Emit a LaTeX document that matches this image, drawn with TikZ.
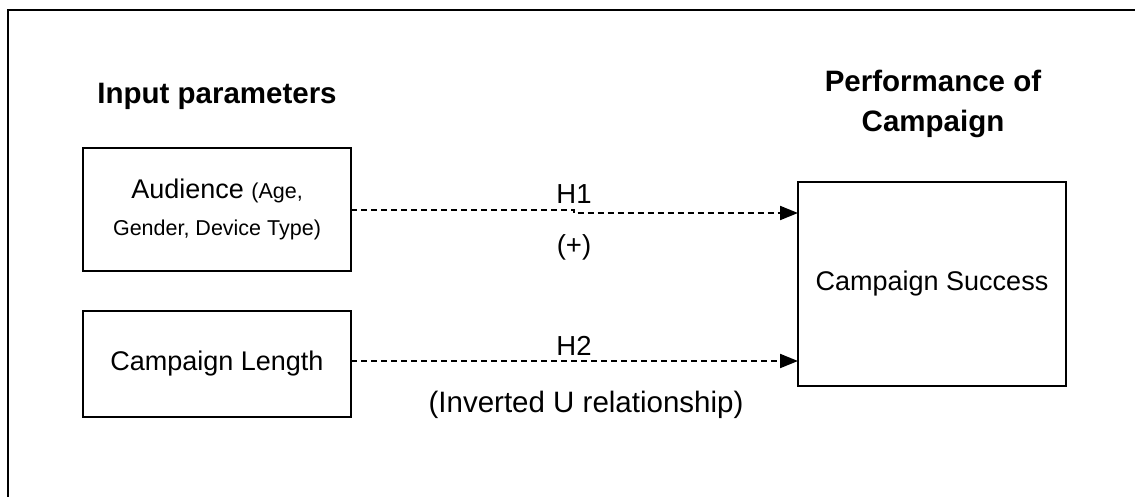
\documentclass[tikz,border=0pt]{standalone}
\usepackage{fontspec}
\setmainfont{Liberation Sans}
\usetikzlibrary{arrows.meta}
\begin{document}
\begin{tikzpicture}[x=1pt,y=-1pt,
  box/.style={draw=black,line width=2pt,minimum width=268pt,outer sep=0pt,inner sep=0pt,align=center,font=\fontsize{27}{37}\selectfont},
  title/.style={font=\fontsize{29.5}{40}\selectfont\bfseries,align=center},
  lbl/.style={font=\fontsize{27.5}{33}\selectfont,anchor=base},
  conn/.style={line width=2pt,dash pattern=on 6pt off 4pt,-{Triangle[length=18pt,width=14pt]}}
]
\useasboundingbox (0,0) rectangle (1135,496);
\clip (0,0) rectangle (1135,496);
\draw[line width=2pt] (8,10) rectangle (1150,510);

\node[title,anchor=base] (tin) at (217,103) {Input parameters};
\node[title] (tperf) at (933,104) {Performance of\\Campaign};

\node[box,minimum height=123pt] (aud) at (217,209.5) {Audience {\fontsize{21.5}{37}\selectfont(Age,}\\{\fontsize{21.5}{37}\selectfont Gender, Device Type)}};
\node[box,minimum height=106pt] (cl) at (217,364) {Campaign Length};
\node[box,minimum height=204pt] (succ) at (932,284) {Campaign Success};

\coordinate (jog) at (574,209.5);
\coordinate (t1) at (798,213);
\coordinate (s2) at (351,361);
\coordinate (t2) at (798,361);
\draw[conn] (aud.east) -- (jog) |- (t1);
\draw[conn] (s2) -- (t2);

\node[lbl] (h1) at (574,203) {H1};
\node[lbl] (plus) at (574,254) {(+)};
\node[lbl] (h2) at (574,355) {H2};
\node[lbl,font=\fontsize{29.5}{35}\selectfont] (inv) at (586,412) {(Inverted U relationship)};
\end{tikzpicture}
\end{document}
